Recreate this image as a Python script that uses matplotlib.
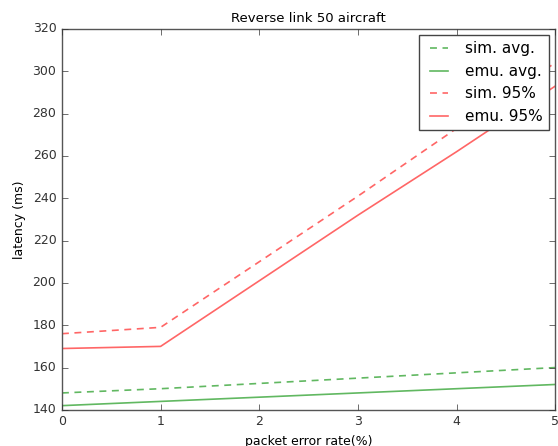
import numpy as np
import matplotlib
matplotlib.use("Agg")
import matplotlib.pyplot as plt

# packet error rate (%)
per = [0, 1, 2, 3, 4, 5]

# latency values (ms)
sim_avg = [148, 150, 152.5, 155, 157.5, 160]
emu_avg = [142, 144, 146, 148, 150, 152]
sim_95 = [176, 179, 210, 241, 273, 304]
emu_95 = [169, 170, 201, 232, 262, 293]

plt.style.use('classic')
plt.rcParams['font.size'] = 9

fig = plt.figure(figsize=(5.58, 4.46), dpi=100)
fig.patch.set_facecolor('white')
ax = fig.add_axes([0.111, 0.081, 0.884, 0.854])

green = '#2ca02c'
red = '#ff3333'
ax.plot(per, sim_avg, color=green, ls='--', dashes=(5, 4), lw=1.2, alpha=0.75, label='sim. avg.')
ax.plot(per, emu_avg, color=green, ls='-', lw=1.2, alpha=0.75, label='emu. avg.')
ax.plot(per, sim_95, color=red, ls='--', dashes=(5, 4), lw=1.2, alpha=0.75, label='sim. 95%')
ax.plot(per, emu_95, color=red, ls='-', lw=1.2, alpha=0.75, label='emu. 95%')

ax.set_xlim(0, 5)
ax.set_ylim(140, 320)
ax.set_xticks(per)
ax.set_yticks(np.arange(140, 321, 20))
ax.tick_params(labelsize=9, colors='#333333')
for s in ax.spines.values():
    s.set_color('#555555')

ax.set_title('Reverse link 50 aircraft', fontsize=9.5)
ax.set_xlabel('packet error rate(%)', fontsize=9)
ax.set_ylabel('latency (ms)', fontsize=9)

leg = ax.legend(loc='upper right', fontsize=11, frameon=True, fancybox=False,
                handlelength=1.8, borderaxespad=0.4)
leg.get_frame().set_edgecolor('#444444')

fig.savefig('out.png', dpi=100, facecolor='white')
